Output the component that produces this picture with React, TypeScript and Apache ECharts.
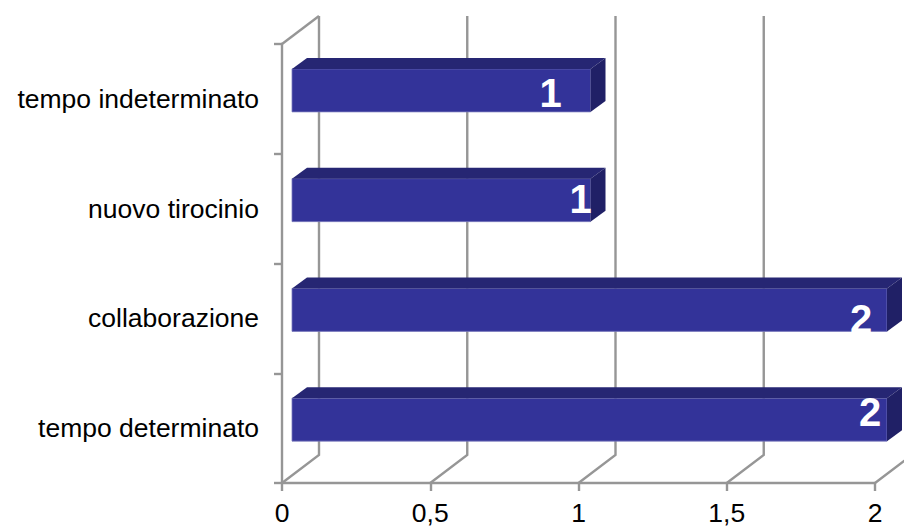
import React, { useEffect, useRef } from "react";
import * as echarts from "echarts";

const categories = ["tempo determinato", "collaborazione", "nuovo tirocinio", "tempo indeterminato"];
const values = [2, 2, 1, 1];
const valueTicks = [0, 0.5, 1, 1.5, 2];

// Layout of the pseudo-3D drawing (pixels)
const WALL_DX = 37;
const WALL_DY = -28;
const BAR_DX = 15;
const BAR_DY = -11;
const BAR_START = 10;
const BAR_END = 12;
const BAR_HEIGHT = 43;
const BAR_SHIFT = -8.5;
const labelOffsets = [[-17, -16], [-26, 1], [-10, -10], [-40, -6]];

const GRID_COLOR = "#969696";
const FONT = "'Liberation Sans', Arial, sans-serif";
const LINE_WIDTH = 2.4;

export default function App() {
  const ref = useRef<HTMLDivElement>(null);
  useEffect(() => {
    const chart = echarts.init(ref.current!, undefined, { renderer: "svg" });
    chart.setOption({
      animation: false,
      backgroundColor: "#ffffff",
      grid: { left: 282, right: 29, top: 44, bottom: 42, containLabel: false },
      xAxis: {
        type: "value",
        min: 0,
        max: 2,
        interval: 0.5,
        axisLine: { show: true, onZero: false, lineStyle: { color: GRID_COLOR, width: LINE_WIDTH } },
        axisTick: { show: true, length: 8, lineStyle: { color: GRID_COLOR, width: LINE_WIDTH } },
        splitLine: { show: false },
        axisLabel: {
          color: "#000",
          fontFamily: FONT,
          fontSize: 26.5,
          margin: 16,
          formatter: (v: number) => String(v).replace(".", ","),
        },
      },
      yAxis: {
        type: "category",
        data: categories,
        axisLine: { show: true, lineStyle: { color: GRID_COLOR, width: LINE_WIDTH } },
        axisTick: { show: true, length: 8, alignWithLabel: false, lineStyle: { color: GRID_COLOR, width: LINE_WIDTH } },
        axisLabel: { color: "#000", fontFamily: FONT, fontSize: 26.5, margin: 23 },
      },
      series: [
        {
          type: "custom",
          silent: true,
          clip: false,
          z: 1,
          data: valueTicks.map((v) => [v, 0]),
          encode: { x: 0, y: 1 },
          renderItem: (_p: any, api: any) => {
            const x = api.coord([api.value(0), 0])[0];
            const yBottom = api.coord([0, 0])[1] + api.size([0, 1])[1] / 2;
            const yTop = yBottom - api.size([0, 1])[1] * categories.length;
            const style = { stroke: GRID_COLOR, fill: "none", lineWidth: LINE_WIDTH };
            const children: any[] = [
              { type: "polyline", shape: { points: [[x, yBottom], [x + WALL_DX, yBottom + WALL_DY], [x + WALL_DX, yTop + WALL_DY]] }, style },
            ];
            if (api.value(0) === 0) {
              children.push({ type: "line", shape: { x1: x, y1: yTop, x2: x + WALL_DX, y2: yTop + WALL_DY }, style });
            }
            return { type: "group", children };
          },
        },
        {
          type: "custom",
          silent: true,
          clip: false,
          z: 3,
          data: values.map((v, i) => [v, i]),
          encode: { x: 0, y: 1 },
          renderItem: (_p: any, api: any) => {
            const idx = api.value(1);
            const [xv, yc] = api.coord([api.value(0), idx]);
            const x0 = api.coord([0, idx])[0] + BAR_START;
            const x1 = xv + BAR_END;
            const y0 = yc + BAR_SHIFT - BAR_HEIGHT / 2;
            const y1 = y0 + BAR_HEIGHT;
            const off = labelOffsets[idx];
            return {
              type: "group",
              children: [
                { type: "rect", shape: { x: x0, y: y0, width: x1 - x0, height: BAR_HEIGHT }, style: { fill: "#333399", stroke: "#7a7abd", lineWidth: 0.8 } },
                { type: "polygon", shape: { points: [[x0, y0], [x0 + BAR_DX, y0 + BAR_DY], [x1 + BAR_DX, y0 + BAR_DY], [x1, y0]] }, style: { fill: "#262673" } },
                { type: "polygon", shape: { points: [[x1, y0], [x1 + BAR_DX, y0 + BAR_DY], [x1 + BAR_DX, y1 + BAR_DY], [x1, y1]] }, style: { fill: "#202066" } },
                {
                  type: "text",
                  style: {
                    x: x1 + off[0],
                    y: yc + off[1],
                    text: String(api.value(0)),
                    fill: "#ffffff",
                    font: `bold 40px ${FONT}`,
                    textAlign: "center",
                    textVerticalAlign: "middle",
                  },
                },
              ],
            };
          },
        },
      ],
    });
    return () => chart.dispose();
  }, []);
  return <div ref={ref} style={{ position: "fixed", left: 0, top: 0, width: 904, height: 526 }} />;
}
